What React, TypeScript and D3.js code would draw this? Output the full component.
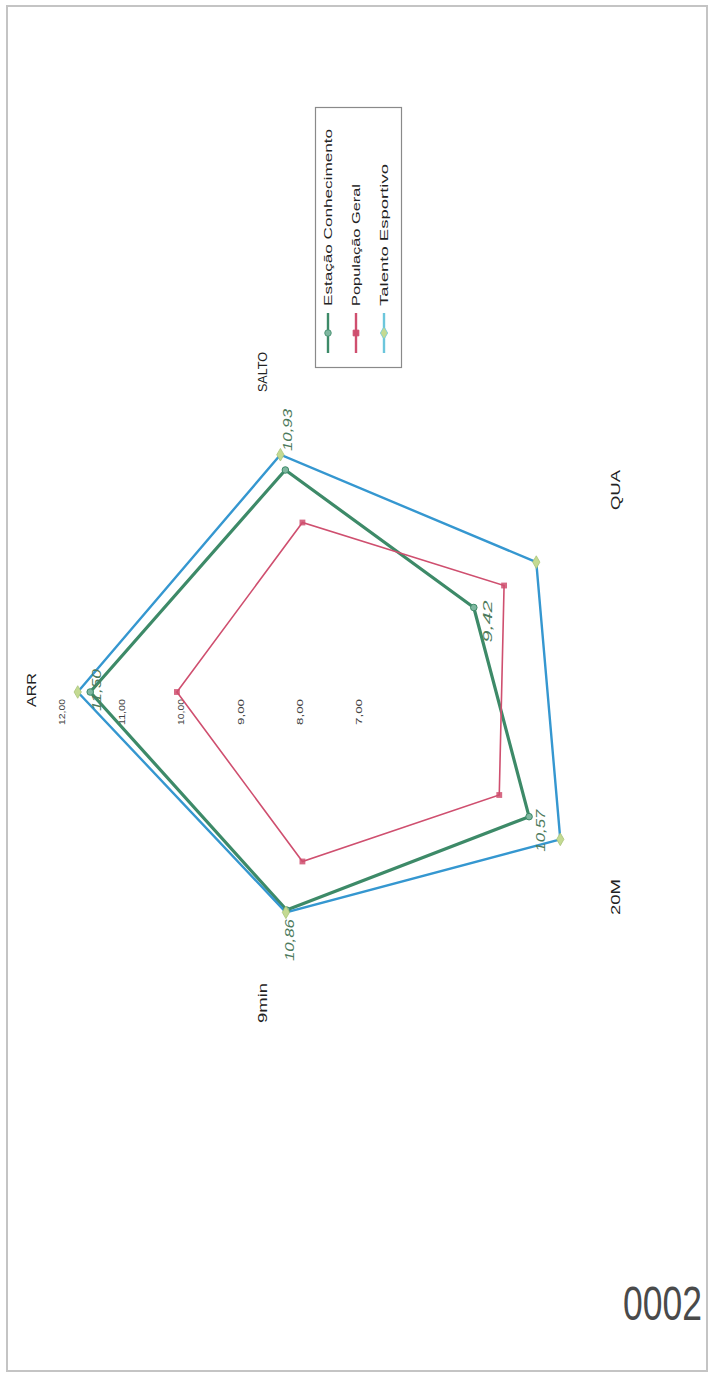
import React from 'react'
import * as d3 from 'd3'

// chart data
const axes = ['ARR', 'SALTO', 'QUA', '20M', '9min']
const estacao = [11.5, 10.93, 9.42, 10.57, 10.86]
const populacao = [10.04, 10.0, 10.05, 9.95, 10.0]
const talento = [11.71, 11.2, 10.72, 11.22, 10.9]
const ticks = [7, 8, 9, 10, 11, 12]
const seriesNames = ['Estação Conhecimento', 'População Geral', 'Talento Esportivo']
const pageNumber = '0002'

const W = 710
const H = 1374
const cx = 357.5
const cy = 692
// the page is a scan turned on its side: ARR points left, axes go clockwise
const startAngle = Math.PI

const fmt = (v: number) => v.toFixed(2).replace('.', ',')

const colors = {
  estacao: '#3d8a68',
  populacao: '#cf4f6f',
  talento: '#3597d0',
  talentoMarker: '#c4da92',
  label: '#4d7a5c',
}

// offsets of the Estação value labels from their vertex
const labelOffsets: [number, number][] = [
  [6, -2],
  [2, -40],
  [14, 14],
  [11, 14],
  [3, 30],
]

// axis name placement (centre of the rotated word) and its length on the scan
const axisLabelPos: [number, number][] = [
  [32, 690],
  [263, 372],
  [616, 490],
  [616, 897],
  [263, 1003],
]
const axisLabelLen = [34, 40, 40, 36, 40]

export default function App() {
  const r = d3.scaleLinear().domain([7, 12]).range([0, 297])
  const angle = (i: number) => startAngle + (i * 2 * Math.PI) / axes.length
  const point = (v: number, i: number): [number, number] => [
    cx + Math.cos(angle(i)) * r(v),
    cy + Math.sin(angle(i)) * r(v),
  ]
  const line = d3.line<[number, number]>().curve(d3.curveLinearClosed)
  const pts = (vals: number[]) => vals.map((v, i) => point(v, i))

  const rot = (x: number, y: number, len: number) =>
    `translate(${x},${y}) rotate(-90) translate(${-len / 2},0)`

  const diamond = d3.symbol().type(d3.symbolDiamond).size(46)()
  const square = d3.symbol().type(d3.symbolSquare).size(34)()
  const circle = d3.symbol().type(d3.symbolCircle).size(34)()

  return (
    <svg
      width={W}
      height={H}
      style={{ position: 'absolute', left: 0, top: 0, background: '#fff' }}
      fontFamily="'Liberation Sans', Arial, sans-serif"
    >
      <rect x={0} y={0} width={W} height={H} fill="#fff" />

      {/* tick labels along the ARR axis */}
      {ticks.map((t) => (
        <text
          key={t}
          transform={rot(cx - r(t) + 2, 712, 26)}
          fontSize={8.5}
          textLength={26}
          lengthAdjust="spacingAndGlyphs"
          dy="0.35em"
          fill="#444"
        >
          {fmt(t)}
        </text>
      ))}

      {/* axis names */}
      {axes.map((a, i) => (
        <text
          key={a}
          transform={rot(axisLabelPos[i][0], axisLabelPos[i][1], axisLabelLen[i])}
          fontSize={12}
          textLength={axisLabelLen[i]}
          lengthAdjust="spacingAndGlyphs"
          dy="0.35em"
          fill="#222"
        >
          {a}
        </text>
      ))}

      {/* series */}
      <path d={line(pts(estacao)) || ''} fill="none" stroke={colors.estacao} strokeWidth={3.2} strokeLinejoin="round" />
      <path d={line(pts(populacao)) || ''} fill="none" stroke={colors.populacao} strokeWidth={1.6} />
      <path d={line(pts(talento)) || ''} fill="none" stroke={colors.talento} strokeWidth={2.4} />

      {pts(estacao).map(([x, y], i) => (
        <path key={'e' + i} d={circle || ''} transform={`translate(${x},${y})`} fill="#7fb7a0" stroke={colors.estacao} strokeWidth={1} />
      ))}
      {pts(populacao).map(([x, y], i) => (
        <path key={'p' + i} d={square || ''} transform={`translate(${x},${y})`} fill={colors.populacao} opacity={0.85} />
      ))}
      {pts(talento).map(([x, y], i) => (
        <path key={'t' + i} d={diamond || ''} transform={`translate(${x},${y})`} fill={colors.talentoMarker} stroke="#a9c47a" strokeWidth={0.8} />
      ))}

      {/* value labels of Estação Conhecimento */}
      {pts(estacao).map(([x, y], i) => (
        <text
          key={'l' + i}
          transform={rot(x + labelOffsets[i][0], y + labelOffsets[i][1], 42)}
          fontSize={13}
          fontStyle="italic"
          textLength={42}
          lengthAdjust="spacingAndGlyphs"
          dy="0.35em"
          fill={colors.label}
        >
          {fmt(estacao[i])}
        </text>
      ))}

      {/* legend */}
      <rect x={315.5} y={107.5} width={86} height={260} fill="#fff" stroke="#8a8a8a" strokeWidth={1.2} />
      {seriesNames.map((name, i) => {
        const x = 328 + i * 28
        const col = [colors.estacao, colors.populacao, '#6cc6dc'][i]
        const mk = [circle, square, diamond][i]
        const mfill = ['#7fb7a0', colors.populacao, colors.talentoMarker][i]
        const len = [177, 122, 142][i]
        return (
          <g key={name}>
            <line x1={x} x2={x} y1={313} y2={353} stroke={col} strokeWidth={2.4} />
            <path d={mk || ''} transform={`translate(${x},333)`} fill={mfill} stroke={col} strokeWidth={0.8} />
            <text
              transform={`translate(${x},306) rotate(-90)`}
              fontSize={11}
              textLength={len}
              lengthAdjust="spacingAndGlyphs"
              dy="0.35em"
              fill="#222"
            >
              {name}
            </text>
          </g>
        )
      })}

      {/* page number */}
      <text transform="translate(623,1320) scale(1,1.37)" fontSize={35.5} fill="#4a4a4a">
        {pageNumber}
      </text>

      {/* scan frame */}
      <rect x={7} y={6} width={700} height={1365} fill="none" stroke="#c4c4c4" strokeWidth={2} />
    </svg>
  )
}
